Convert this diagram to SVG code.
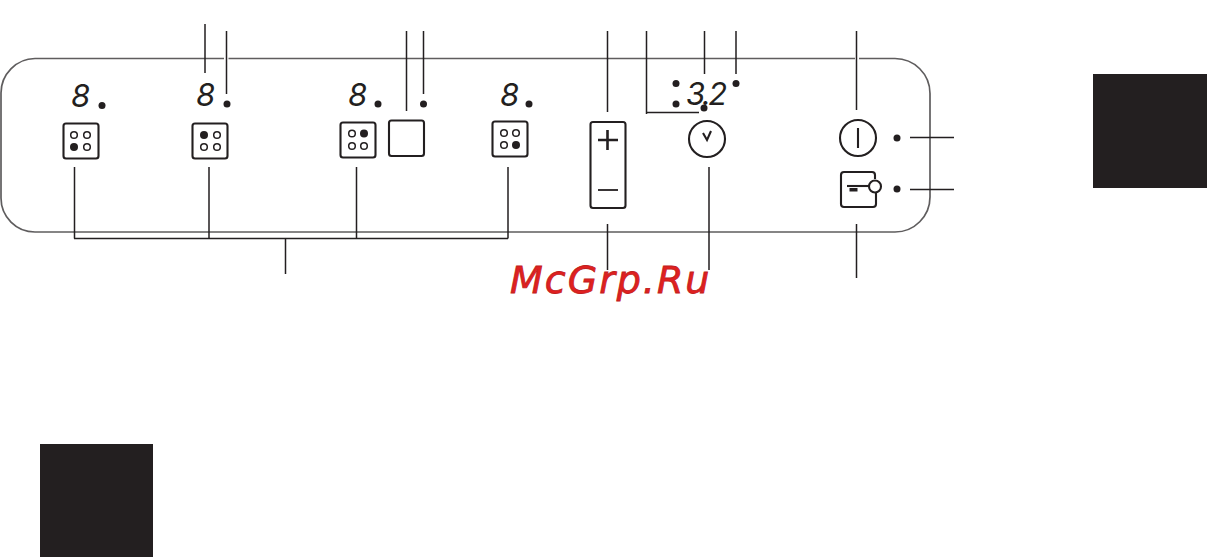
<svg xmlns="http://www.w3.org/2000/svg" width="1207" height="557" viewBox="0 0 1207 557">
<style>
.l{fill:none;stroke:#231f20;stroke-width:1.500}
.p{fill:none;stroke:#5f5d5e;stroke-width:1.700}
.b{fill:none;stroke:#231f20;stroke-width:2.100}
.k{fill:#231f20}
.o{fill:#fff;stroke:#231f20;stroke-width:1.500}
.d{font-family:"Inter","Liberation Sans",sans-serif;font-style:italic;font-weight:400;font-size:31px;fill:#231f20}
</style>
<rect width="1207" height="557" fill="#fff"/>
<rect id="square-right" class="k" x="1093" y="74" width="114" height="114"/>
<rect id="square-left" class="k" x="40" y="444" width="113" height="113"/>
<path id="panel" class="p" d="M859 58.500H895A35 35 0 0 1 930 93.500V197A35 35 0 0 1 895 232H35A34 34 0 0 1 1 198V93A34.500 34.500 0 0 1 35 58.500H224M228.500 58.500H855"/>
<g id="connectors">
<path class="l" d="M205 24V73M226.500 31V94M406.500 31V111M423.500 31V94M607.500 31V112M646.500 31V114M646 112.500H699M704.500 31V74M736 31V74M856.500 31V110"/>
<path class="l" d="M74.500 167V238.500M209 167V238.500M356.500 167V238.500M508 167V238.500M74 238.500H508M285.500 238V274M607.500 224V270M709 167V270M856.500 224V278M910 137.500H954M910 189.500H954"/>
</g>
<g id="zone1"><text class="d" x="71" y="107">8</text><circle class="k" cx="102" cy="105.500" r="3.500"/><rect class="b" x="63.500" y="123.500" width="35" height="35" rx="2.500"/><circle class="o" cx="74" cy="135" r="3.300"/><circle class="o" cx="87" cy="135" r="3.300"/><circle class="k" cx="74" cy="147" r="4"/><circle class="o" cx="87" cy="147" r="3.300"/></g>
<g id="zone2"><text class="d" x="196" y="106">8</text><circle class="k" cx="227" cy="104" r="3.500"/><rect class="b" x="192.500" y="123.500" width="35" height="35" rx="2.500"/><circle class="k" cx="204" cy="135" r="4"/><circle class="o" cx="217" cy="135" r="3.300"/><circle class="o" cx="204" cy="147" r="3.300"/><circle class="o" cx="217" cy="147" r="3.300"/></g>
<g id="zone3"><text class="d" x="348" y="106">8</text><circle class="k" cx="378" cy="104" r="3.500"/><rect class="b" x="340.500" y="122.500" width="35" height="35" rx="2.500"/><circle class="o" cx="352" cy="133.500" r="3.300"/><circle class="k" cx="364" cy="133.500" r="4"/><circle class="o" cx="352" cy="146" r="3.300"/><circle class="o" cx="364" cy="146" r="3.300"/></g>
<g id="bridge"><circle class="k" cx="423.500" cy="104" r="3.500"/><rect class="b" x="389" y="120.500" width="35" height="35.500" rx="2.500"/></g>
<g id="zone4"><text class="d" x="500" y="106">8</text><circle class="k" cx="529" cy="104" r="3.500"/><rect class="b" x="492.500" y="121.500" width="35" height="35" rx="2.500"/><circle class="o" cx="504" cy="133" r="3.300"/><circle class="o" cx="516" cy="133" r="3.300"/><circle class="o" cx="504" cy="145" r="3.300"/><circle class="k" cx="516" cy="145" r="4"/></g>
<g id="slider"><rect class="b" x="590.500" y="122" width="35" height="86" rx="2.500"/><path class="b" style="stroke-width:2.600" d="M598 140H618M607.500 130V150"/><path class="l" d="M598 190H618" style="stroke-width:1.800"/></g>
<g id="timer-display"><circle class="k" cx="676" cy="83.500" r="3.500"/><circle class="k" cx="676" cy="104" r="3.500"/><text class="d" x="686" y="105" style="letter-spacing:-2.500px">3.2</text><circle class="k" cx="736" cy="83.500" r="3.500"/><circle class="k" cx="704" cy="108" r="3.500"/></g>
<g id="clock"><circle class="b" cx="707" cy="139" r="18"/><path class="b" d="M703 133L707 140L711 131"/></g>
<g id="power"><circle class="b" cx="858" cy="138" r="18"/><path class="b" d="M858 128V148"/><circle class="k" cx="897" cy="138" r="3.500"/></g>
<g id="lock"><path class="b" d="M875 179V175Q875 172 872 172H844Q841 172 841 175V204Q841 207 844 207H873Q876 207 876 204V193"/><path class="b" d="M847 186H869"/><rect class="k" x="849.500" y="188" width="8" height="3.500"/><circle class="b" cx="875" cy="186.500" r="6" style="fill:#fff"/><circle class="k" cx="897" cy="189" r="3.500"/></g>
<text id="watermark" x="510" y="293" style="font-family:'DejaVu Sans',sans-serif;font-style:italic;font-size:38px;letter-spacing:2px;fill:#e02020;stroke:#c02020;stroke-width:.8">McGrp.Ru</text>
</svg>
